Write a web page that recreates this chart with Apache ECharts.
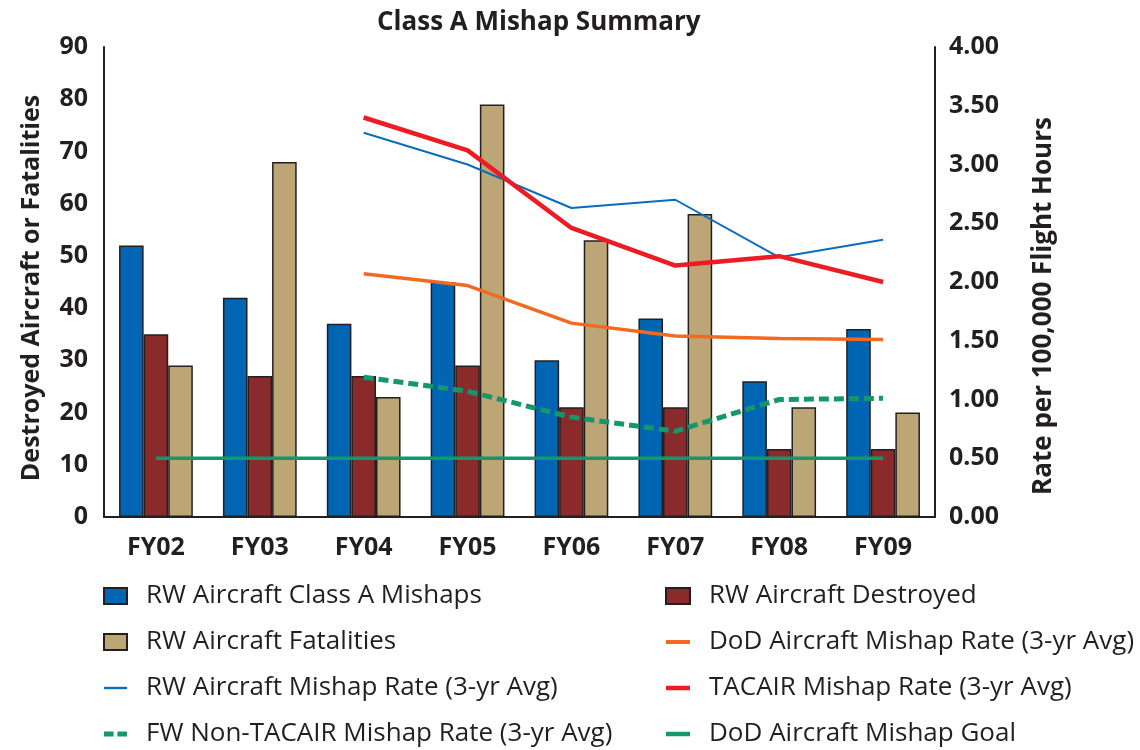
<!DOCTYPE html>
<html>
<head>
<meta charset="utf-8">
</head>
<body style="margin:0">
<div id="main" style="width:1140px;height:750px"></div>
<script src="https://cdn.jsdelivr.net/npm/echarts@6/dist/echarts.min.js"></script>
<script>
var years = ['FY02', 'FY03', 'FY04', 'FY05', 'FY06', 'FY07', 'FY08', 'FY09'];

// left axis: counts
var classAMishaps = [52, 42, 37, 45, 30, 38, 26, 36];
var destroyed = [35, 27, 27, 29, 21, 21, 13, 13];
var fatalities = [29, 68, 23, 79, 53, 58, 21, 20];

// right axis: rate per 100,000 flight hours (3-yr averages start FY04)
var dodRate = ['-', '-', 2.07, 1.97, 1.65, 1.54, 1.52, 1.51];
var rwRate = ['-', '-', 3.27, 3.00, 2.63, 2.70, 2.21, 2.36];
var tacairRate = ['-', '-', 3.40, 3.12, 2.46, 2.14, 2.22, 2.00];
var fwNonTacairRate = ['-', '-', 1.19, 1.07, 0.85, 0.73, 1.00, 1.01];
var mishapGoal = [0.5, 0.5, 0.5, 0.5, 0.5, 0.5, 0.5, 0.5];

var ink = '#231f20';
var font = '"Open Sans", sans-serif';

var chart = echarts.init(document.getElementById('main'));

function barSeries(name, data, color) {
    return {
        name: name,
        type: 'bar',
        yAxisIndex: 0,
        data: data,
        barGap: '0%',
        barCategoryGap: '29%',
        itemStyle: { color: color, borderColor: ink, borderWidth: 1.5 }
    };
}

function lineSeries(name, data, color, width, dash) {
    return {
        name: name,
        type: 'line',
        yAxisIndex: 1,
        data: data,
        symbol: 'none',
        lineStyle: { color: color, width: width, type: dash || 'solid' },
        itemStyle: { color: color }
    };
}

// flat bar icons for the line entries in the legend
function lineIcon(name, h) {
    return { name: name, icon: 'path://M0,0h24v' + h + 'h-24z' };
}

var legendText = {
    fontFamily: font,
    fontSize: 26,
    color: ink,
    lineHeight: 26,
    padding: [0, 0, 0, 14]
};

var option = {
    animation: false,
    title: {
        text: 'Class A Mishap Summary',
        left: 372,
        top: 5,
        textStyle: { fontFamily: font, fontSize: 26, fontWeight: 'bold', color: ink }
    },
    grid: { left: 104, right: 205, top: 47, bottom: 233 },
    legend: [{
        orient: 'vertical',
        left: 103,
        top: 583,
        padding: 0,
        itemWidth: 23,
        itemHeight: 16,
        itemGap: 20,
        textStyle: legendText,
        data: [{ name: 'RW Aircraft Class A Mishaps', icon: 'rect' },
               { name: 'RW Aircraft Fatalities', icon: 'rect' },
               lineIcon('RW Aircraft Mishap Rate (3-yr Avg)', 2.5),
               { name: 'FW Non-TACAIR Mishap Rate (3-yr Avg)', icon: 'path://M0,0h10v5h-10z M14,0h10v5h-10z' }]
    }, {
        orient: 'vertical',
        left: 665,
        top: 583,
        padding: 0,
        itemWidth: 24,
        itemHeight: 16,
        itemGap: 20,
        textStyle: legendText,
        data: [{ name: 'RW Aircraft Destroyed', icon: 'rect' },
               lineIcon('DoD Aircraft Mishap Rate (3-yr Avg)', 4),
               lineIcon('TACAIR Mishap Rate (3-yr Avg)', 4.5),
               lineIcon('DoD Aircraft Mishap Goal', 4.5)]
    }],
    xAxis: {
        type: 'category',
        data: years,
        axisTick: { show: false },
        axisLine: { lineStyle: { color: ink, width: 2 } },
        axisLabel: { margin: 18, fontFamily: font, fontSize: 25, fontWeight: 'bold', color: ink }
    },
    yAxis: [{
        type: 'value',
        min: 0,
        max: 90,
        interval: 10,
        name: 'Destroyed Aircraft or Fatalities',
        nameLocation: 'middle',
        nameRotate: 90,
        nameGap: 60,
        nameTextStyle: { fontFamily: font, fontSize: 25, fontWeight: 'bold', color: ink, padding: [0, 12, 0, 0] },
        splitLine: { show: false },
        axisTick: { show: false },
        axisLine: { show: true, lineStyle: { color: ink, width: 2 } },
        axisLabel: { margin: 16, fontFamily: font, fontSize: 25, fontWeight: 'bold', color: ink }
    }, {
        type: 'value',
        min: 0,
        max: 4,
        interval: 0.5,
        position: 'right',
        name: 'Rate per 100,000 Flight Hours',
        nameLocation: 'middle',
        nameRotate: 90,
        nameGap: 96,
        nameTextStyle: { fontFamily: font, fontSize: 26, fontWeight: 'bold', color: ink, padding: [0, 48, 0, 0] },
        splitLine: { show: false },
        axisTick: { show: false },
        axisLine: { show: true, lineStyle: { color: ink, width: 2 } },
        axisLabel: {
            margin: 14, fontFamily: font, fontSize: 25, fontWeight: 'bold', color: ink,
            formatter: function (v) { return v.toFixed(2); }
        }
    }],
    series: [
        barSeries('RW Aircraft Class A Mishaps', classAMishaps, '#0066b3'),
        barSeries('RW Aircraft Destroyed', destroyed, '#8a2a2b'),
        barSeries('RW Aircraft Fatalities', fatalities, '#bda676'),
        lineSeries('DoD Aircraft Mishap Goal', mishapGoal, '#14986b', 3.5),
        lineSeries('FW Non-TACAIR Mishap Rate (3-yr Avg)', fwNonTacairRate, '#14986b', 5, [10, 5]),
        lineSeries('DoD Aircraft Mishap Rate (3-yr Avg)', dodRate, '#f26a22', 3.5),
        lineSeries('RW Aircraft Mishap Rate (3-yr Avg)', rwRate, '#0a6cbd', 2),
        lineSeries('TACAIR Mishap Rate (3-yr Avg)', tacairRate, '#ed1c24', 4.5)
    ]
};

chart.setOption(option);
</script>
</body>
</html>
